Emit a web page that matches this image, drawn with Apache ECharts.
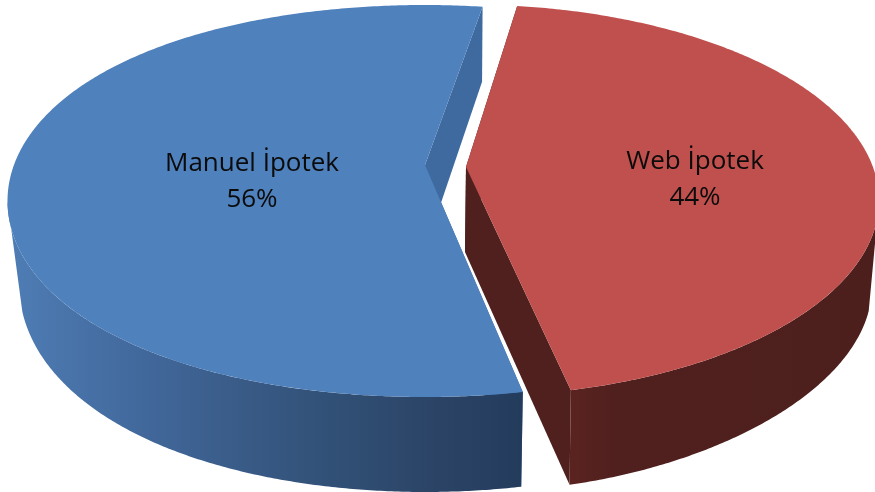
<!DOCTYPE html>
<html>
<head>
<meta charset="utf-8">
<style>
  html, body { margin: 0; padding: 0; background: #fff; }
  #main { width: 875px; height: 492px; }
</style>
<script src="https://cdn.jsdelivr.net/npm/echarts@6/dist/echarts.min.js"></script>
</head>
<body>
<div id="main"></div>
<script>
const categories = ['Manuel İpotek', 'Web İpotek']
const shares = [56, 44]

// projected shape of each exploded slice, the sweep comes from the shares
// k makes the rim a little fuller (or flatter) on the diagonals
const slices = [
  {
    dir: -1, startT: 8,
    apex: [425, 165], apexLow: [425, 250],
    top: { cx: 424.5, cy: 201, rx: 417, ry: 196, k: 0.012 },
    low: { cx: 425.5, cy: 286, rx: 406, ry: 206, k: 0.012 },
    face: '#4f81bd', cut: '#3e6a9f',
    wall: new echarts.graphic.LinearGradient(7, 0, 522, 0, [
      { offset: 0, color: '#4e7db5' },
      { offset: 0.28, color: '#41679a' },
      { offset: 0.47, color: '#385a85' },
      { offset: 0.67, color: '#304e73' },
      { offset: 0.86, color: '#2a4264' },
      { offset: 1, color: '#243c5c' }
    ], true),
    label: [252, 182]
  },
  {
    dir: 1, startT: 7,
    apex: [466, 167], apexLow: [465, 252],
    top: { cx: 467, cy: 200.5, rx: 412, ry: 196, k: 0 },
    low: { cx: 468, cy: 286, rx: 404, ry: 206, k: -0.012 },
    face: '#c0504d', cut: '#4f201d',
    wall: new echarts.graphic.LinearGradient(570, 0, 875, 0, [
      { offset: 0, color: '#5a2320' },
      { offset: 0.15, color: '#50201e' },
      { offset: 1, color: '#4c1f1d' }
    ], true),
    label: [695, 180]
  }
]

const rad = Math.PI / 180
function rimPoint(e, t) {
  const bump = 1 + e.k * Math.pow(Math.sin(2 * t * rad), 2)
  return [e.cx + e.rx * bump * Math.sin(t * rad), e.cy - e.ry * bump * Math.cos(t * rad)]
}
function rimArc(e, from, to) {
  const pts = []
  const steps = Math.ceil(Math.abs(to - from) * 2)
  for (let i = 0; i <= steps; i++) {
    pts.push(rimPoint(e, from + (to - from) * i / steps))
  }
  return pts
}

const total = shares.reduce((a, b) => a + b, 0)

function renderSlice(params, api) {
  const s = slices[params.dataIndex]
  const value = api.value(0)
  const endT = s.startT + s.dir * value / total * 360
  const poly = (points, fill) => ({
    type: 'polygon',
    shape: { points: points },
    style: { fill: fill }
  })
  const cutFace = t => [s.apex, rimPoint(s.top, t), rimPoint(s.low, t), s.apexLow]
  const wall = rimArc(s.top, endT, s.dir * 90).concat(rimArc(s.low, s.dir * 97, endT))
  const face = [s.apex].concat(rimArc(s.top, s.startT, endT))
  return {
    type: 'group',
    children: [
      poly(cutFace(s.startT), s.cut),
      poly(cutFace(endT), s.cut),
      poly(wall, s.wall),
      poly(face, s.face),
      {
        type: 'text',
        x: s.label[0],
        y: s.label[1],
        style: {
          text: categories[params.dataIndex] + '\n' + Math.round(value / total * 100) + '%',
          fill: '#0b0b0b',
          font: '26px "Open Sans"',
          lineHeight: 36,
          align: 'center',
          verticalAlign: 'middle'
        }
      }
    ]
  }
}

const chart = echarts.init(document.getElementById('main'), null, { renderer: 'canvas' })
chart.setOption({
  animation: false,
  backgroundColor: '#ffffff',
  series: [{
    type: 'custom',
    coordinateSystem: 'none',
    renderItem: renderSlice,
    data: shares.map(v => [v])
  }]
})
</script>
</body>
</html>
